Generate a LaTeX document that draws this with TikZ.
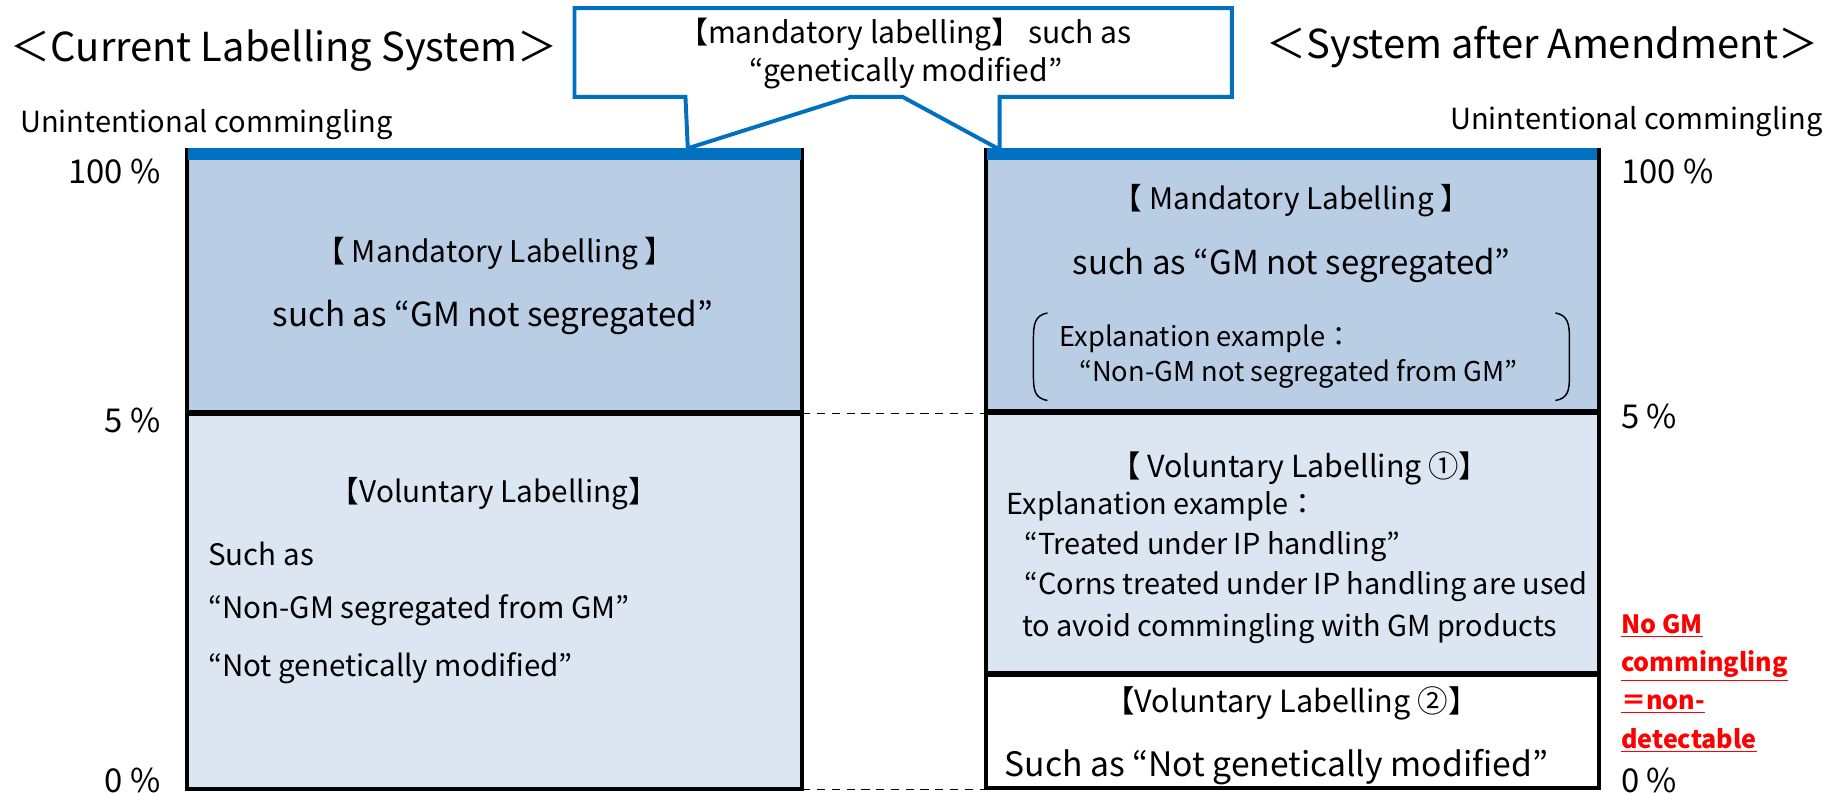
\documentclass[tikz,border=0pt]{standalone}
\usepackage{fontspec}
\setmainfont{Noto Sans CJK JP}
\definecolor{mandfill}{HTML}{B9CDE5}
\definecolor{volfill}{HTML}{DCE6F2}
\definecolor{barblue}{HTML}{0070C0}
\begin{document}
\begin{tikzpicture}[x=0.025cm, y=-0.025cm, font=\fontsize{18}{24}\selectfont, line join=miter,
	every node/.style={inner sep=0pt},
	fs/.style={font=\fontsize{#1}{24}\selectfont},
	boxline/.style={line width=2.4pt},
	divline/.style={line width=3.6pt},
	dashline/.style={line width=1pt, dash pattern=on 5pt off 4pt},
	callout/.style={draw=barblue, fill=white, line width=2.4pt},
	title/.style={font=\fontsize{24.3}{30}\selectfont},
	redtxt/.style={text=red, align=left, font=\bfseries\fontsize{15.3}{23.3}\selectfont}]
	\useasboundingbox (0,0) rectangle (1568,679);
	\fill[mandfill] (160,128) rectangle (687,354);
	\fill[volfill] (160,354) rectangle (687,676);
	\fill[mandfill] (844,128) rectangle (1369,353);
	\fill[volfill] (844,353) rectangle (1369,577);
	\draw[boxline] (160,128) rectangle (687,676);
	\draw[boxline] (844,128) rectangle (1369,675);
	\draw[divline] (160,354) -- (687,354);
	\draw[divline] (844,353) -- (1369,353);
	\draw[divline] (844,577) -- (1369,577);
	\fill[barblue] (161,127) rectangle (686,137);
	\fill[barblue] (845,127) rectangle (1368,137);
	\draw[dashline] (687,354) -- (844,354);
	\draw[dashline] (687,676) -- (844,676);
	\coordinate (tipcur) at (589,127);
	\coordinate (tipnew) at (856,128);
	\draw[callout] (492,7) -- (1055,7) -- (1055,83) -- (856,83) -- (tipnew) -- (773,83) -- (728,83) -- (tipcur) -- (587,83) -- (492,83) -- cycle;
	\draw[line width=0.9pt] (897,268) .. controls (886,270) and (885,278) .. (885,290) -- (885,322) .. controls (885,334) and (886,341) .. (897,343);
	\draw[line width=0.9pt] (1332,268) .. controls (1343,270) and (1344,278) .. (1344,290) -- (1344,322) .. controls (1344,334) and (1343,341) .. (1332,343);
	\node[title, anchor=west] (curtitle) at (9,43) {＜Current Labelling System＞};
	\node[title] (newtitle) at (1321,40) {＜System after Amendment＞};
	\node[fs=18.3] (callone) at (775,30) {【mandatory labelling】 such as};
	\node[fs=18.3] (calltwo) at (776,63) {“genetically modified”};
	\node[fs=17.7, anchor=west] (curunint) at (17,107) {Unintentional commingling};
	\node[fs=17.7, anchor=east] (newunint) at (1561,104) {Unintentional commingling};
	\node[fs=20, anchor=east] (cur100) at (138,147) {100 \%};
	\node[fs=20, anchor=east] (cur5) at (138,360) {5 \%};
	\node[fs=20, anchor=east] (cur0) at (138,668) {0 \%};
	\node[fs=20, anchor=west] (new100) at (1388,147) {100 \%};
	\node[fs=20, anchor=west] (new5) at (1388,357) {5 \%};
	\node[fs=20, anchor=west] (new0) at (1388,668) {0 \%};
	\node[fs=18.2] (curmand) at (424,217) {【 Mandatory Labelling 】};
	\node[fs=20.2] (curmandex) at (422,272) {such as “GM not segregated”};
	\node[fs=18.1] (curvol) at (423,423) {【Voluntary Labelling】};
	\node[anchor=west] (curvolone) at (178,474) {Such as};
	\node[anchor=west] (curvoltwo) at (178,523) {“Non-GM segregated from GM”};
	\node[anchor=west] (curvolthree) at (178,572) {“Not genetically modified”};
	\node[fs=18.1] (newmand) at (1106,172) {【 Mandatory Labelling 】};
	\node[fs=20.1] (newmandex) at (1106,227) {such as “GM not segregated”};
	\node[fs=16.6, anchor=west] (newexpl) at (907,290) {Explanation example：};
	\node[fs=16.6, anchor=west] (newexpltwo) at (924,320) {“Non-GM not segregated from GM”};
	\node[fs=18.5] (newvol) at (1113,401) {【 Voluntary Labelling ①】};
	\node[fs=17.6, anchor=west] (newvolex) at (862,434) {Explanation example：};
	\node[fs=17.6, anchor=west] (newvolone) at (877,468) {“Treated under IP handling”};
	\node[fs=17.6, anchor=west] (newvoltwo) at (877,502) {“Corns treated under IP handling are used};
	\node[fs=17.6, anchor=west] (newvolthree) at (875,538) {to avoid commingling with GM products};
	\node[fs=18.6] (newvolb) at (1106,602) {【Voluntary Labelling ②】};
	\node[fs=20.5, anchor=west] (newvolbone) at (860,657) {Such as “Not genetically modified”};
	\node[redtxt, anchor=west] (nogm) at (1388,585) {\underline{No GM}\\\underline{commingling}\\\underline{＝non-}\\\underline{detectable}};
\end{tikzpicture}
\end{document}
